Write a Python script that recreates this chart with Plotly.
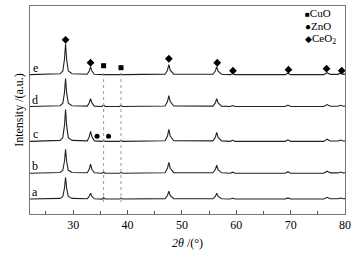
import plotly.graph_objects as go

# shared 2theta grid (deg)
two_theta = [22, 27.6, 28.1, 28.4, 28.6, 28.8, 29.1, 29.8,
             32.6, 32.95, 33.2, 33.45, 33.9,
             35.3, 35.6, 35.9,
             38.5, 38.8, 39.1,
             46.9, 47.35, 47.6, 47.85, 48.5,
             55.7, 56.15, 56.4, 56.65, 57.3,
             58.9, 59.3, 59.8,
             69.0, 69.5, 70.0,
             76.1, 76.7, 77.3,
             78.7, 79.2, 79.7, 80]

samples = ["a", "b", "c", "d", "e"]
offsets = [15, 41, 73, 108, 140]

int_a = [0, 0.7, 2.6, 11, 22, 11, 2.6, 0.7,
         0.3, 2.7, 6, 2.7, 0.3,
         0, 1.5, 0,
         0, 1.2, 0,
         0.4, 3.6, 8, 3.6, 0.4,
         0.3, 2.7, 6, 2.7, 0.3,
         0, 0.8, 0,
         0, 1.2, 0,
         0, 1.8, 0.3,
         0.3, 1.0, 0.3, 0.4]
int_b = [0, 0.7, 2.9, 12, 24, 12, 2.9, 0.7,
         0.45, 4, 9, 4, 0.45,
         0, 1.0, 0,
         0, 0.6, 0,
         0.5, 5, 11, 5, 0.5,
         0.4, 3.6, 8, 3.6, 0.4,
         0, 1.0, 0,
         0, 1.5, 0,
         0, 2.0, 0.3,
         0.3, 1.2, 0.3, 0.4]
int_c = [0, 1.0, 3.8, 16, 32, 16, 3.8, 1.0,
         0.5, 4.5, 10, 4.5, 0.5,
         0, 1.0, 0,
         0, 0.8, 0,
         0.6, 5.4, 12, 5.4, 0.6,
         0.45, 4, 9, 4, 0.45,
         0, 1.0, 0,
         0, 1.5, 0,
         0, 2.2, 0.3,
         0.3, 1.3, 0.3, 0.4]
int_d = [0, 0.8, 3.4, 14, 28, 14, 3.4, 0.8,
         0.4, 3.6, 8, 3.6, 0.4,
         0, 1.5, 0,
         0, 1.0, 0,
         0.5, 5, 11, 5, 0.5,
         0.4, 3.6, 8, 3.6, 0.4,
         0, 1.0, 0,
         0, 1.5, 0,
         0, 2.0, 0.3,
         0.3, 1.2, 0.3, 0.5]
int_e = [0, 0.9, 3.7, 15.5, 31, 15.5, 3.7, 0.9,
         0.4, 3.6, 8, 3.6, 0.4,
         0, 0.6, 0,
         0, 0.5, 0,
         0.5, 4.5, 10, 4.5, 0.5,
         0.4, 3.6, 8, 3.6, 0.4,
         0, 1.0, 0,
         0, 1.5, 0,
         0, 2.0, 0.3,
         0.3, 1.5, 0.3, 0.5]
intensities = [int_a, int_b, int_c, int_d, int_e]

# phase markers
ceo2_x = [28.6, 33.2, 47.6, 56.5, 59.4, 69.6, 76.6, 79.4]
ceo2_y = [175, 152, 156, 152, 144, 145, 146, 144]
cuo_x = [35.6, 38.8]
cuo_y = [149, 147]
zno_x = [34.4, 36.5]
zno_y = [78, 78]
cuo_line_y = [12, 144]

FONT = "Liberation Serif, Times New Roman, serif"

fig = go.Figure()
for name, off, ys in zip(samples, offsets, intensities):
    fig.add_trace(go.Scatter(x=two_theta, y=[v + off for v in ys], mode="lines",
                             line=dict(color="#222", width=1.1), showlegend=False,
                             hoverinfo="skip"))
    fig.add_annotation(x=23.0, y=off + 7, text=name, showarrow=False,
                       xanchor="center", yanchor="middle",
                       font=dict(family=FONT, size=12, color="black"))

for xv in cuo_x:
    fig.add_shape(type="line", x0=xv, x1=xv, y0=cuo_line_y[0], y1=cuo_line_y[1],
                  line=dict(color="#999999", width=1, dash="dot"))

fig.add_trace(go.Scatter(x=ceo2_x, y=ceo2_y, mode="markers",
                         marker=dict(symbol="diamond", size=6, color="black"), showlegend=False))
fig.add_trace(go.Scatter(x=cuo_x, y=cuo_y, mode="markers",
                         marker=dict(symbol="square", size=5, color="black"), showlegend=False))
fig.add_trace(go.Scatter(x=zno_x, y=zno_y, mode="markers",
                         marker=dict(symbol="circle", size=5, color="black"), showlegend=False))

legend_items = [("<span style='font-size:8px'>■</span>CuO", 0.964),
                ("<span style='font-size:10px'>●</span>ZnO", 0.905),
                ("<span style='font-size:9px'>◆</span>CeO<sub>2</sub>", 0.842)]
for txt, yy in legend_items:
    fig.add_annotation(xref="paper", yref="paper", x=0.866, y=yy, text=txt,
                       showarrow=False, xanchor="left", yanchor="middle",
                       font=dict(family=FONT, size=11, color="black"))

fig.update_xaxes(range=[22.06, 80], tickmode="linear", tick0=30, dtick=10,
                 ticks="inside", ticklen=4, tickcolor="#555", tickwidth=1,
                 minor=dict(ticks="inside", ticklen=3, dtick=5, tick0=25, tickcolor="#555"),
                 showline=True, linecolor="#777", linewidth=1, mirror=True,
                 showgrid=False, zeroline=False,
                 tickfont=dict(family=FONT, size=12, color="black"),
                 title=dict(text="<i>2θ</i> /(°)", font=dict(family=FONT, size=12, color="black"),
                            standoff=7))
fig.update_yaxes(range=[0, 209], showticklabels=False, ticks="",
                 showline=True, linecolor="#777", linewidth=1, mirror=True,
                 showgrid=False, zeroline=False,
                 title=dict(text="Intensity /(a.u.)", font=dict(family=FONT, size=12, color="black"),
                            standoff=2))

fig.update_layout(width=356, height=253, margin=dict(l=30, r=9, t=5, b=39),
                  plot_bgcolor="white", paper_bgcolor="white", showlegend=False)

fig.write_html("out.html", config={"displayModeBar": False},
               post_script="document.body.style.margin='0';")
